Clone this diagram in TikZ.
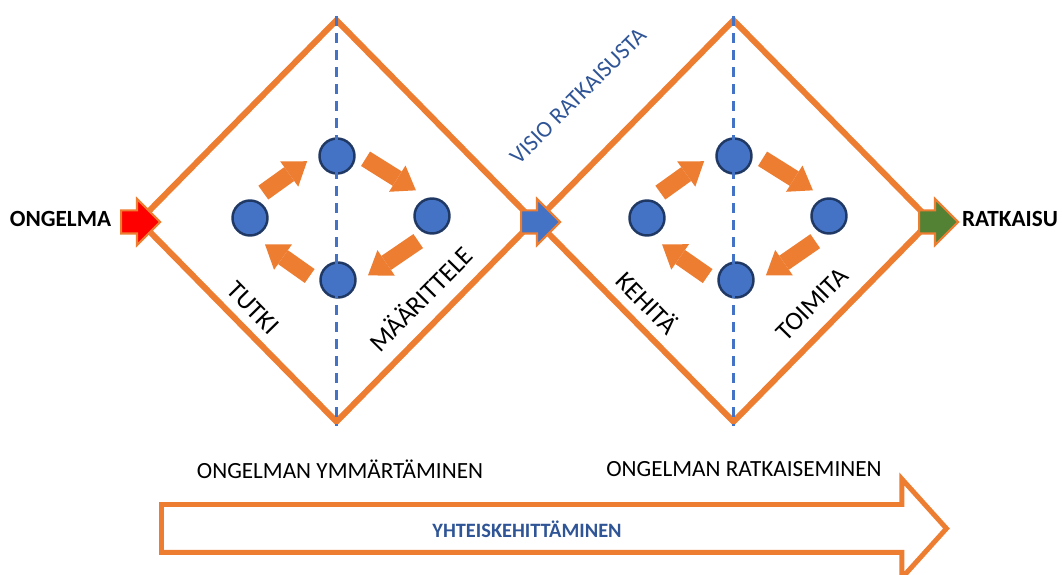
\documentclass[tikz,border=0pt]{standalone}
\usepackage{fontspec}
\setmainfont{Carlito}
\usepackage{xcolor}
\definecolor{dtorange}{RGB}{237, 125, 49}
\definecolor{dtblue}{RGB}{68, 114, 196}
\definecolor{dtnavy}{RGB}{31, 56, 100}
\definecolor{dttext}{RGB}{47, 85, 151}
\definecolor{dtgreen}{RGB}{84, 130, 53}
\usetikzlibrary{shapes.geometric, shapes.arrows, arrows.meta, positioning}
\tikzset{
  phase/.style = {
    diamond,
    draw=dtorange,
    line width=1.7pt,
    minimum width=3.97cm,
    minimum height=4.04cm,
    inner sep=0pt
  },
  midline/.style = {
    draw=dtblue,
    line width=0.65pt,
    dash pattern=on 1mm off 0.7mm
  },
  stagedot/.style = {
    circle,
    draw=dtnavy,
    fill=dtblue,
    line width=0.7pt,
    minimum size=3.5mm,
    inner sep=0pt
  },
  cyclearrow/.style = {
    draw=dtorange,
    line width=1.7mm,
    -{Triangle[width=3.1mm, length=2.2mm, line width=0pt]},
    shorten <=1.2mm,
    shorten >=1.4mm
  },
  entryarrow/.style = {
    single arrow,
    draw=dtorange,
    line width=0.6pt,
    minimum height=3.9mm,
    inner xsep=0pt,
    inner ysep=1.05mm,
    single arrow head extend=1.15mm,
    anchor=tail
  },
  flowband/.style = {
    single arrow,
    draw=dtorange,
    fill=white,
    line width=1.4pt,
    minimum height=7.85cm,
    inner xsep=0pt,
    inner ysep=2.15mm,
    single arrow head extend=2.55mm,
    single arrow tip angle=96,
    anchor=tail
  },
  endlabel/.style = {font=\fontsize{6.6}{8}\selectfont\bfseries, text=black},
  phaselabel/.style = {font=\fontsize{6.6}{8}\selectfont, text=black},
  steplabel/.style = {font=\fontsize{7.4}{9}\selectfont, text=black}
}

\begin{document}
\begin{tikzpicture}[x=1cm, y=1cm]
  \useasboundingbox (0, 0) rectangle (10.62, -5.75);

  % the two diamonds
  \node[phase] (understand) at (3.365, -2.21) {};
  \node[phase] (solve) at (7.335, -2.21) {};

  % cycle dots, left diamond
  \node[stagedot] (uleft) at (2.50, -2.18) {};
  \node[stagedot] (utop) at (3.37, -1.56) {};
  \node[stagedot] (uright) at (4.32, -2.16) {};
  \node[stagedot] (ubottom) at (3.38, -2.80) {};

  % cycle dots, right diamond
  \node[stagedot] (sleft) at (6.47, -2.18) {};
  \node[stagedot] (stop) at (7.34, -1.56) {};
  \node[stagedot] (sright) at (8.29, -2.16) {};
  \node[stagedot] (sbottom) at (7.36, -2.80) {};

  % block arrows round each cycle
  \draw[cyclearrow] (uleft.79.5) -- (utop.171.5);
  \draw[cyclearrow] (utop.11.7) -- (uright.103.7);
  \draw[cyclearrow] (uright.258.5) -- (ubottom.350.5);
  \draw[cyclearrow] (ubottom.189.1) -- (uleft.281.1);

  \draw[cyclearrow] (sleft.79.5) -- (stop.171.5);
  \draw[cyclearrow] (stop.11.7) -- (sright.103.7);
  \draw[cyclearrow] (sright.258.5) -- (sbottom.350.5);
  \draw[cyclearrow] (sbottom.189.1) -- (sleft.281.1);

  % vertical split of each diamond
  \draw[midline] (understand.north) -- (understand.south);
  \draw[midline] (solve.north) -- (solve.south);

  % entry / exit arrows
  \node[entryarrow, fill=red] (inarrow) at (1.20, -2.22) {};
  \node[entryarrow, fill=dtblue] (midarrow) at (5.20, -2.22) {};
  \node[entryarrow, fill=dtgreen] (outarrow) at (9.18, -2.22) {};

  \node[endlabel] (problem) at (0.605, -2.19) {ONGELMA};
  \node[endlabel] (solution) at (10.10, -2.19) {RATKAISU};

  % labels along the diamond edges
  \node[steplabel, rotate=-45.5] (explore) at (2.53, -3.08) {TUTKI};
  \node[steplabel, rotate=45.5] (define) at (4.20, -2.98) {MÄÄRITTELE};
  \node[steplabel, rotate=-45.5] (develop) at (6.48, -3.02) {KEHITÄ};
  \node[steplabel, rotate=45.5] (deliver) at (8.12, -3.04) {TOIMITA};
  \node[phaselabel, text=dttext, rotate=45] (vision) at (5.78, -0.96) {VISIO RATKAISUSTA};

  % phase names and the long band arrow
  \node[phaselabel] (understandname) at (3.40, -4.69) {ONGELMAN YMMÄRTÄMINEN};
  \node[phaselabel] (solvename) at (7.44, -4.69) {ONGELMAN RATKAISEMINEN};

  \node[flowband] (cocreation) at (1.59, -5.285) {};
  \node[font=\fontsize{5.8}{7}\selectfont\bfseries, text=dttext] (cocreationname) at (5.27, -5.29) {YHTEISKEHITTÄMINEN};
\end{tikzpicture}
\end{document}
